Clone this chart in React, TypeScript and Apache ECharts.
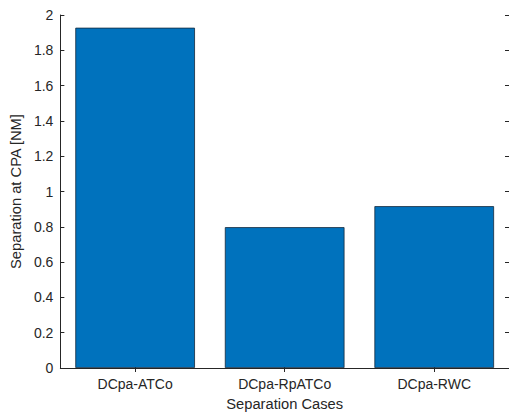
import React, { useEffect, useRef } from "react";
import * as echarts from "echarts";

const categories = ["DCpa-ATCo", "DCpa-RpATCo", "DCpa-RWC"];
const separationValues = [1.928, 0.798, 0.917];
const yAxisTitle = "Separation at CPA [NM]";
const xAxisTitle = "Separation Cases";

const TEXT = "#262626";
const FONT = "'Liberation Sans', Arial, Helvetica, sans-serif";

export default function App() {
  const ref = useRef<HTMLDivElement>(null);
  useEffect(() => {
    document.body.style.margin = "0";
    if (!ref.current) return;
    const chart = echarts.init(ref.current, null, { renderer: "svg" });
    const lineStyle = { color: TEXT, width: 1 };
    chart.setOption({
      animation: false,
      backgroundColor: "#ffffff",
      textStyle: { fontFamily: FONT },
      grid: { left: 60, top: 15, width: 451, height: 355, containLabel: false },
      xAxis: [
        {
          type: "category",
          data: categories,
          position: "bottom",
          boundaryGap: true,
          axisLine: { show: true, lineStyle },
          axisTick: { show: true, inside: true, alignWithLabel: true, length: 4, lineStyle },
          axisLabel: { color: TEXT, fontSize: 14, fontFamily: FONT, margin: 9 },
          name: xAxisTitle,
          nameLocation: "middle",
          nameGap: 28,
          nameTextStyle: { color: TEXT, fontSize: 14.7, fontFamily: FONT },
          splitLine: { show: false },
        },
        {
          type: "category",
          data: categories,
          position: "top",
          boundaryGap: true,
          axisLine: { show: true, lineStyle },
          axisTick: { show: true, inside: true, alignWithLabel: true, length: 4, lineStyle },
          axisLabel: { show: false },
          splitLine: { show: false },
        },
      ],
      yAxis: [
        {
          type: "value",
          min: 0,
          max: 2,
          interval: 0.2,
          position: "left",
          axisLine: { show: true, lineStyle },
          axisTick: { show: true, inside: true, length: 4, lineStyle },
          axisLabel: {
            color: TEXT,
            fontSize: 14,
            fontFamily: FONT,
            margin: 7,
            formatter: (v: number) => String(parseFloat(v.toFixed(1))),
          },
          splitLine: { show: false },
          name: yAxisTitle,
          nameLocation: "middle",
          nameGap: 28,
          nameTextStyle: { color: TEXT, fontSize: 14.7, fontFamily: FONT },
        },
        {
          type: "value",
          min: 0,
          max: 2,
          interval: 0.2,
          position: "right",
          axisLine: { show: true, lineStyle },
          axisTick: { show: true, inside: true, length: 4, lineStyle },
          axisLabel: { show: false },
          splitLine: { show: false },
        },
      ],
      series: [
        {
          type: "bar",
          data: separationValues,
          xAxisIndex: 0,
          yAxisIndex: 0,
          barWidth: "80%",
          itemStyle: { color: "#0072BD", borderColor: "#14283c", borderWidth: 0.8 },
        },
      ],
    });
    return () => chart.dispose();
  }, []);
  return <div ref={ref} style={{ width: 509, height: 416 }} />;
}
